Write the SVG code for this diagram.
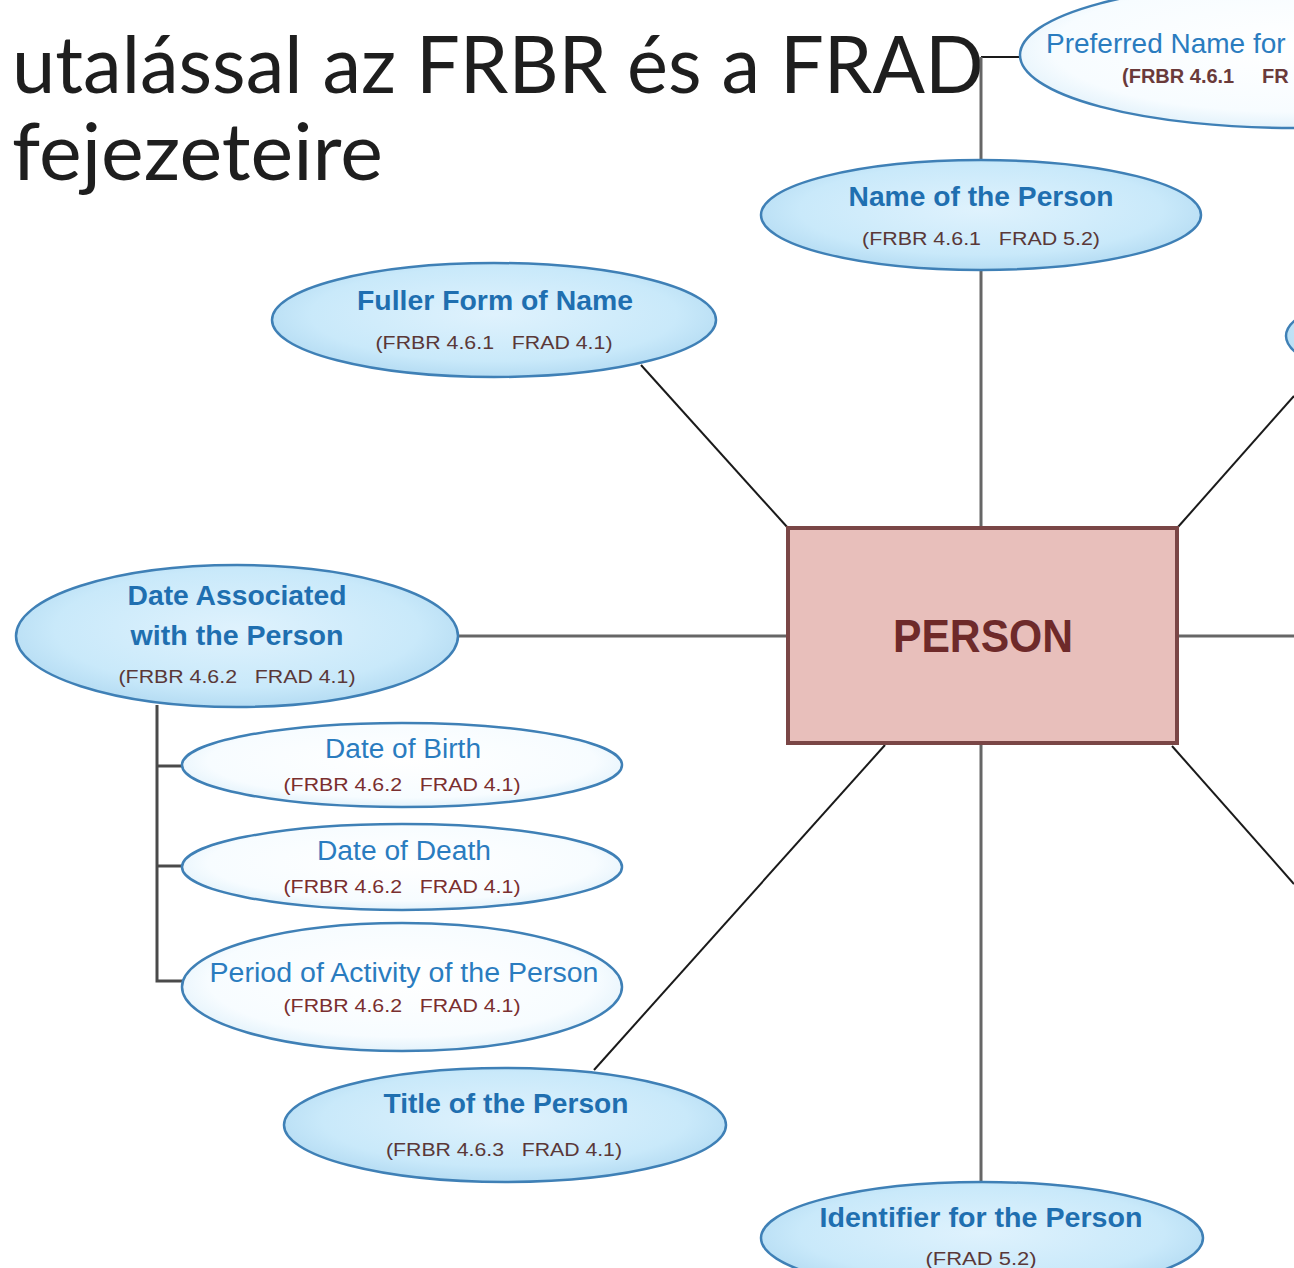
<svg xmlns="http://www.w3.org/2000/svg" width="1294" height="1268" viewBox="0 0 1294 1268">
  <defs>
    <radialGradient id="gBlue" cx="50%" cy="45%" r="55%">
      <stop offset="0" stop-color="#dff2fd"/>
      <stop offset="0.75" stop-color="#c9e9fa"/>
      <stop offset="1" stop-color="#b5dcf3"/>
    </radialGradient>
    <radialGradient id="gWhite" cx="50%" cy="45%" r="55%">
      <stop offset="0" stop-color="#ffffff"/>
      <stop offset="0.8" stop-color="#f7fcff"/>
      <stop offset="1" stop-color="#e3f2fb"/>
    </radialGradient>
    <style>
      .ellB { fill: url(#gBlue); stroke: #3f80b6; stroke-width: 2.5; }
      .ellW { fill: url(#gWhite); stroke: #3f80b6; stroke-width: 2.5; }
      .hb { font-family: "Liberation Sans", Arial, sans-serif; font-weight: bold; font-size: 28px; fill: #1f6fb0; text-anchor: middle; }
      .hr { font-family: "Liberation Sans", Arial, sans-serif; font-size: 27px; fill: #2a7cbf; text-anchor: middle; }
      .ref { font-family: "Liberation Sans", Arial, sans-serif; font-size: 18px; fill: #5a3838; text-anchor: middle; }
      .refR { font-family: "Liberation Sans", Arial, sans-serif; font-size: 18px; fill: #7a2f2f; text-anchor: middle; }
      .title { font-family: Lato, "Liberation Sans", sans-serif; font-weight: normal; font-size: 80px; fill: #1e1e1e; }
      .gray { stroke: #666666; stroke-width: 3; fill: none; }
      .dark { stroke: #4a4a4a; stroke-width: 3; fill: none; }
      .thin { stroke: #1a1a1a; stroke-width: 2; fill: none; }
    </style>
  </defs>
  <rect x="0" y="0" width="1294" height="1268" fill="#ffffff"/>

  <g id="title">
    <text class="title" x="12" y="93" textLength="972" lengthAdjust="spacingAndGlyphs">utalással az FRBR és a FRAD</text>
    <text class="title" x="12" y="180" textLength="371" lengthAdjust="spacingAndGlyphs">fejezeteire</text>
  </g>

  <g id="connectors">
    <polyline class="thin" points="1021,57 981,57"/>
    <line class="gray" x1="981" y1="57" x2="981" y2="160"/>
    <line class="gray" x1="981" y1="270" x2="981" y2="528"/>
    <line class="gray" x1="981" y1="743" x2="981" y2="1182"/>
    <line class="gray" x1="457" y1="636" x2="788" y2="636"/>
    <line class="gray" x1="1176" y1="636" x2="1294" y2="636"/>
    <line class="thin" x1="641" y1="365" x2="788" y2="528"/>
    <line class="thin" x1="1178" y1="527" x2="1294" y2="396"/>
    <line class="thin" x1="885" y1="745" x2="594" y2="1070"/>
    <line class="thin" x1="1172" y1="746" x2="1294" y2="884"/>
    <polyline class="dark" points="157,705 157,981 185,981"/>
    <line class="dark" x1="157" y1="766" x2="183" y2="766"/>
    <line class="dark" x1="157" y1="866" x2="183" y2="866"/>
  </g>

  <g id="preferred-name">
    <ellipse class="ellW" cx="1294" cy="55" rx="274" ry="73"/>
    <text x="1046" y="53" style="font-family:'Liberation Sans',Arial,sans-serif;font-size:28px;fill:#2a7cbf">Preferred Name for</text>
    <text x="1122" y="83" style="font-family:'Liberation Sans',Arial,sans-serif;font-size:20px;font-weight:bold;fill:#6a3a3a">(FRBR 4.6.1<tspan x="1262">FR</tspan></text>
  </g>

  <g id="right-node">
    <ellipse class="ellB" cx="1510" cy="336" rx="224" ry="56"/>
  </g>

  <g id="name-of-person">
    <ellipse class="ellB" cx="981" cy="215" rx="220" ry="55"/>
    <text class="hb" x="981" y="206" textLength="265" lengthAdjust="spacingAndGlyphs">Name of the Person</text>
    <text class="ref" x="981" y="245" textLength="238" lengthAdjust="spacingAndGlyphs">(FRBR 4.6.1&#160;&#160; FRAD 5.2)</text>
  </g>

  <g id="fuller-form">
    <ellipse class="ellB" cx="494" cy="320" rx="222" ry="57"/>
    <text class="hb" x="495" y="310" textLength="276" lengthAdjust="spacingAndGlyphs">Fuller Form of Name</text>
    <text class="ref" x="494" y="349" textLength="237" lengthAdjust="spacingAndGlyphs">(FRBR 4.6.1&#160;&#160; FRAD 4.1)</text>
  </g>

  <g id="person">
    <rect x="788" y="528" width="389" height="215" fill="#e8bfbb" stroke="#7a4646" stroke-width="4"/>
    <text x="983" y="652" textLength="180" lengthAdjust="spacingAndGlyphs" style="font-family:'Liberation Sans',Arial,sans-serif;font-weight:bold;font-size:46px;fill:#6e2a2a;text-anchor:middle">PERSON</text>
  </g>

  <g id="date-associated">
    <ellipse class="ellB" cx="237" cy="636" rx="221" ry="71"/>
    <text class="hb" x="237" y="605" textLength="219" lengthAdjust="spacingAndGlyphs">Date Associated</text>
    <text class="hb" x="237" y="645" textLength="213" lengthAdjust="spacingAndGlyphs">with the Person</text>
    <text class="ref" x="237" y="683" textLength="237" lengthAdjust="spacingAndGlyphs">(FRBR 4.6.2&#160;&#160; FRAD 4.1)</text>
  </g>

  <g id="date-of-birth">
    <ellipse class="ellW" cx="402" cy="765" rx="220" ry="42"/>
    <text class="hr" x="403" y="758" textLength="156" lengthAdjust="spacingAndGlyphs">Date of Birth</text>
    <text class="refR" x="402" y="791" textLength="237" lengthAdjust="spacingAndGlyphs">(FRBR 4.6.2&#160;&#160; FRAD 4.1)</text>
  </g>

  <g id="date-of-death">
    <ellipse class="ellW" cx="402" cy="867" rx="220" ry="43"/>
    <text class="hr" x="404" y="860" textLength="174" lengthAdjust="spacingAndGlyphs">Date of Death</text>
    <text class="refR" x="402" y="893" textLength="237" lengthAdjust="spacingAndGlyphs">(FRBR 4.6.2&#160;&#160; FRAD 4.1)</text>
  </g>

  <g id="period-of-activity">
    <ellipse class="ellW" cx="402" cy="987" rx="220" ry="64"/>
    <text class="hr" x="404" y="982" textLength="389" lengthAdjust="spacingAndGlyphs">Period of Activity of the Person</text>
    <text class="refR" x="402" y="1012" textLength="237" lengthAdjust="spacingAndGlyphs">(FRBR 4.6.2&#160;&#160; FRAD 4.1)</text>
  </g>

  <g id="title-of-person">
    <ellipse class="ellB" cx="505" cy="1125" rx="221" ry="57"/>
    <text class="hb" x="506" y="1113" textLength="245" lengthAdjust="spacingAndGlyphs">Title of the Person</text>
    <text class="ref" x="504" y="1156" textLength="236" lengthAdjust="spacingAndGlyphs">(FRBR 4.6.3&#160;&#160; FRAD 4.1)</text>
  </g>

  <g id="identifier">
    <ellipse class="ellB" cx="982" cy="1238" rx="221" ry="56"/>
    <text class="hb" x="981" y="1227" textLength="323" lengthAdjust="spacingAndGlyphs">Identifier for the Person</text>
    <text class="ref" x="981" y="1265" textLength="111" lengthAdjust="spacingAndGlyphs">(FRAD 5.2)</text>
  </g>
</svg>
